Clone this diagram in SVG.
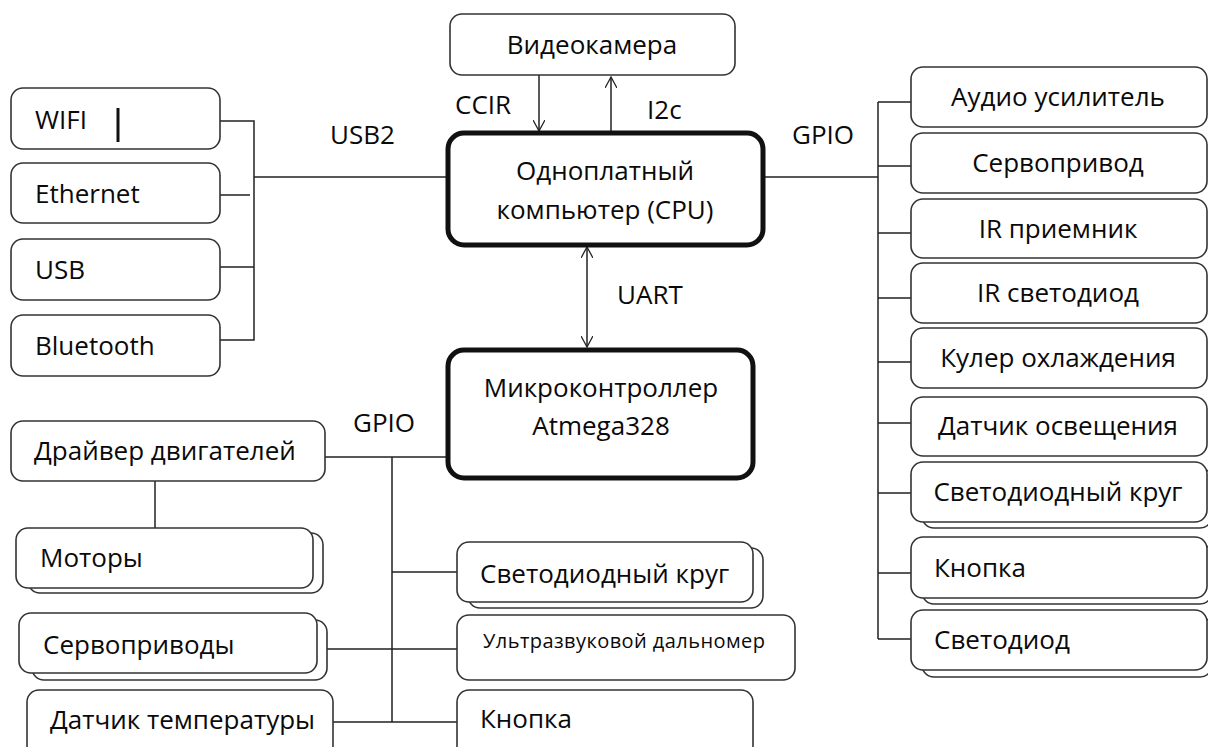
<svg xmlns="http://www.w3.org/2000/svg" width="1208" height="747" viewBox="0 0 1208 747">
<defs>
<marker id="arr" viewBox="0 0 12 12" refX="11" refY="6" markerWidth="12" markerHeight="12" markerUnits="userSpaceOnUse" orient="auto-start-reverse">
<path d="M0,0 L11,6 L0,12" fill="none" stroke="#222" stroke-width="1.3"/>
</marker>
</defs>
<style>
text{font-family:"Open Sans","Noto Sans","DejaVu Sans",sans-serif;font-size:26px;fill:#0a0a0a}
.b{fill:#fff;stroke:#333;stroke-width:1.6}
.k{fill:#fff;stroke:#111;stroke-width:5}
.c{fill:none;stroke:#222;stroke-width:1.5}
.m{text-anchor:middle}
</style>
<rect width="1208" height="747" fill="#fff"/>
<g id="connectors">
<path class="c" d="M220,121 H254 V340 H220 M217,195 H250 M220,267 H254 M254,177 H448"/>
<path class="c" d="M763,177 H878 M878,102 V639 M878,102 H911 M878,166 H911 M878,233 H911 M878,298 H911 M878,362 H911 M878,423 H911 M878,493 H911 M878,573 H911 M878,639 H911"/>
<path class="c" d="M539,75 V131" marker-end="url(#arr)"/>
<path class="c" d="M611,133 V77" marker-end="url(#arr)"/>
<path class="c" d="M587,247 V347" marker-start="url(#arr)" marker-end="url(#arr)"/>
<path class="c" d="M325,457 H448 M392,457 V722 M155,481 V528 M392,572 H457 M327,649 H457 M330,722 H457"/>
</g>
<g id="labels">
<text x="330" y="144">USB2</text>
<text x="455" y="114">CCIR</text>
<text x="647" y="119">I2c</text>
<text x="792" y="144">GPIO</text>
<text x="617" y="304">UART</text>
<text x="353" y="432">GPIO</text>
</g>
<g id="wifi"><rect class="b" x="11" y="88" width="209" height="61" rx="12"/><text x="35" y="129">WIFI</text><line x1="118" y1="108" x2="118" y2="142" stroke="#111" stroke-width="3"/></g>
<g id="ethernet"><rect class="b" x="11" y="163" width="209" height="60" rx="12"/><text x="35" y="203">Ethernet</text></g>
<g id="usb"><rect class="b" x="11" y="239" width="209" height="61" rx="12"/><text x="35" y="279">USB</text></g>
<g id="bluetooth"><rect class="b" x="11" y="315" width="209" height="61" rx="12"/><text x="35" y="355">Bluetooth</text></g>
<g id="camera"><rect class="b" x="450" y="14" width="285" height="61" rx="12"/><text class="m" x="592" y="54">Видеокамера</text></g>
<g id="cpu"><rect class="k" x="448" y="133" width="315" height="112" rx="16"/><text class="m" x="605" y="180">Одноплатный</text><text class="m" x="605" y="219">компьютер (CPU)</text></g>
<g id="mcu"><rect class="k" x="448" y="350" width="305" height="128" rx="16"/><text class="m" x="601" y="397">Микроконтроллер</text><text class="m" x="601" y="435">Atmega328</text></g>
<g id="audio"><rect class="b" x="911" y="67" width="296" height="60" rx="12"/><text class="m" x="1058" y="106">Аудио усилитель</text></g>
<g id="servo"><rect class="b" x="911" y="133" width="296" height="60" rx="12"/><text class="m" x="1058" y="172">Сервопривод</text></g>
<g id="irrx"><rect class="b" x="911" y="199" width="296" height="59" rx="12"/><text class="m" x="1058" y="238">IR приемник</text></g>
<g id="irled"><rect class="b" x="911" y="263" width="296" height="60" rx="12"/><text class="m" x="1058" y="302">IR светодиод</text></g>
<g id="cooler"><rect class="b" x="911" y="328" width="296" height="60" rx="12"/><text class="m" x="1058" y="367">Кулер охлаждения</text></g>
<g id="light"><rect class="b" x="911" y="397" width="296" height="59" rx="12"/><text class="m" x="1058" y="435">Датчик освещения</text></g>
<g id="ledring-r"><rect class="b" x="922" y="468" width="290" height="60" rx="12"/><rect class="b" x="911" y="462" width="296" height="60" rx="12"/><text class="m" x="1058" y="501">Светодиодный круг</text></g>
<g id="button-r"><rect class="b" x="922" y="544" width="290" height="60" rx="12"/><rect class="b" x="911" y="537" width="296" height="61" rx="12"/><text x="934" y="577">Кнопка</text></g>
<g id="led-r"><rect class="b" x="922" y="617" width="290" height="60" rx="12"/><rect class="b" x="911" y="610" width="296" height="60" rx="12"/><text x="934" y="649">Светодиод</text></g>
<g id="driver"><rect class="b" x="11" y="421" width="314" height="60" rx="12"/><text x="34" y="460">Драйвер двигателей</text></g>
<g id="motors"><rect class="b" x="28" y="533" width="295" height="60" rx="12"/><rect class="b" x="16" y="528" width="297" height="60" rx="12"/><text x="40" y="567">Моторы</text></g>
<g id="servos"><rect class="b" x="32" y="620" width="295" height="60" rx="12"/><rect class="b" x="19" y="613" width="298" height="60" rx="12"/><text x="43" y="654">Сервоприводы</text></g>
<g id="temp"><rect class="b" x="27" y="690" width="306" height="70" rx="12"/><text x="50" y="729">Датчик температуры</text></g>
<g id="ledring-b"><rect class="b" x="468" y="548" width="295" height="60" rx="12"/><rect class="b" x="457" y="542" width="296" height="60" rx="12"/><text x="480" y="583">Светодиодный круг</text></g>
<g id="sonar"><rect class="b" x="457" y="615" width="338" height="65" rx="12"/><text x="483" y="648" style="font-size:20px" textLength="282">Ультразвуковой  дальномер</text></g>
<g id="button-b"><rect class="b" x="457" y="690" width="296" height="70" rx="12"/><text x="480" y="728">Кнопка</text></g>
</svg>
